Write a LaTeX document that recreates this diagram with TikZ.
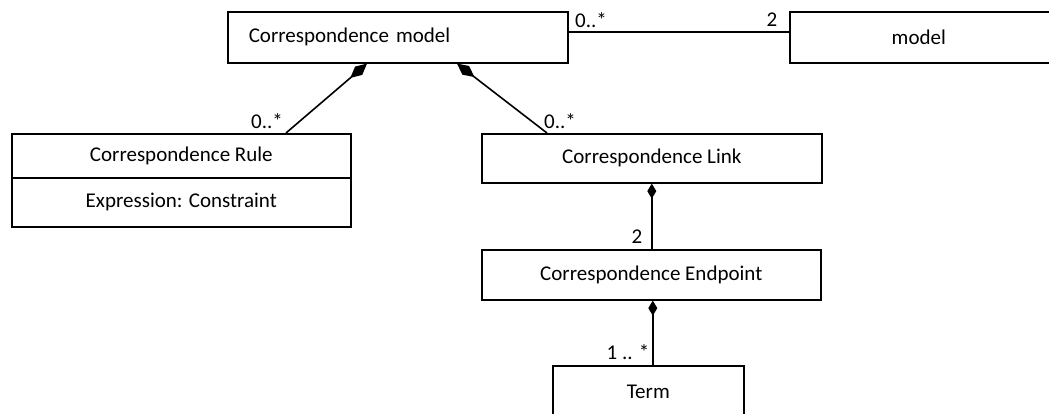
\documentclass[tikz,border=0pt]{standalone}
\usepackage{fontspec}
\setmainfont{Carlito}
\usetikzlibrary{arrows.meta}
\begin{document}
\begin{tikzpicture}[x=1pt,y=-1pt,
  font=\fontsize{21}{25}\selectfont,
  umlbox/.style={draw, line width=1.6pt, rectangle, inner sep=0pt, anchor=north west},
  conn/.style={line width=1.6pt},
  compbig/.style={conn, {Diamond[length=22pt,width=11pt]}-},
  compsmall/.style={conn, {Diamond[length=15pt,width=9pt]}-},
  mult/.style={inner sep=0pt}]
\useasboundingbox (0,0) rectangle (1049,413);
% boxes
\node[umlbox, minimum width=340pt, minimum height=51pt, text width=298pt, align=left, inner xsep=21pt] (cm) at (227,11) {Correspondence model};
\node[umlbox, minimum width=290pt, minimum height=51pt] (model) at (789,11) {\hspace*{-32pt}model};
\node[umlbox, minimum width=339pt, minimum height=44pt] (rule) at (11,133) {Correspondence Rule};
\node[umlbox, minimum width=339pt, minimum height=49pt] (ruleattr) at (11,177) {Expression: Constraint};
\node[umlbox, minimum width=340pt, minimum height=49pt] (link) at (481,133) {Correspondence Link};
\node[umlbox, minimum width=339pt, minimum height=50pt] (ep) at (481,249) {Correspondence Endpoint};
\node[umlbox, minimum width=191pt, minimum height=80pt, text depth=28pt] (term) at (552,365) {Term};
% connectors
\draw[conn] (cm.east |- 0,32) -- (model.west |- 0,32);
\draw[compbig] ([xshift=140pt]cm.south west) -- ([xshift=275pt]rule.north west);
\draw[compbig] ([xshift=230pt]cm.south west) -- ([xshift=66pt]link.north west);
\draw[compsmall] (link.south) -- (link.south |- ep.north);
\draw[compsmall] ([xshift=1.5pt]ep.south) -- ([xshift=1.5pt]ep.south |- term.north);
% multiplicities
\node[mult] (m1) at (591,20) {0..*};
\node[mult] (m2) at (772,20) {2};
\node[mult] (m3) at (267,121) {0..*};
\node[mult] (m4) at (560,121) {0..*};
\node[mult] (m5) at (637,237) {2};
\node[mult] (m6) at (628,352) {1 .. *};
\end{tikzpicture}
\end{document}
